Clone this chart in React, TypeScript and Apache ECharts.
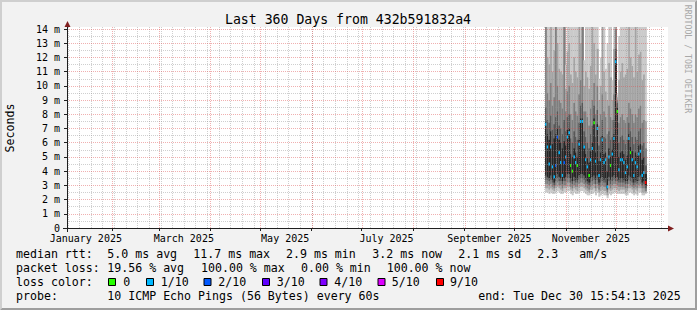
import { useEffect, useRef } from "react";
import * as echarts from "echarts";

const DAY = 86400000;
const utc = (s: string) => Date.parse(s + "T00:00:00Z");
const rangeStart = Date.UTC(2025, 0, 4, 15, 54, 13);
const rangeEnd = Date.UTC(2025, 11, 30, 15, 54, 13);
const firstSample = Date.UTC(2025, 9, 19, 12, 0, 0);
const firstSunday = "2025-01-05";

const monthStarts = ["2025-02-01", "2025-03-01", "2025-04-01", "2025-05-01", "2025-06-01", "2025-07-01", "2025-08-01", "2025-09-01", "2025-10-01", "2025-11-01", "2025-12-01"];
const monthLabelDates = ["2025-01-16", "2025-03-16", "2025-05-16", "2025-07-16", "2025-09-16", "2025-11-16"];
const monthLabelTexts = ["January 2025", "March 2025", "May 2025", "July 2025", "September 2025", "November 2025"];

// smoke: ordered ping percentiles (ms), one value per day from Oct 19
const pingP1 = [2.5, 2.5, 2.4, 2.5, 2.4, 2.4, 2.5, 2.6, 2.5, 2.4, 2.4, 2.5, 2.5, 2.6, 2.6, 2.4, 2.3, 2.5, 2.4, 2.4, 2.5, 2.6, 2.6, 2.5, 2.4, 2.3, 2.3, 2.4, 2.4, 2.5, 2.3, 2.5, 2.2, 2.3, 2.4, 2.3, 2.3, 2.1, 2.4, 2.3, 2.4, 2.5, 2.5, 2.4, 2.4, 2.4, 2.4, 2.4, 2.3, 2.3, 2.5, 2.5, 2.4, 2.3, 2.4, 2.3, 2.5, 2.5, 2.3, 2.3, 2.4];
const pingP2 = [2.8, 2.8, 2.7, 2.8, 2.7, 2.6, 2.8, 2.9, 2.8, 2.7, 2.6, 2.8, 2.8, 2.9, 2.9, 2.7, 2.6, 2.8, 2.7, 2.6, 2.8, 2.9, 2.9, 2.8, 2.7, 2.6, 2.5, 2.7, 2.7, 2.8, 2.6, 2.8, 2.5, 2.6, 2.7, 2.6, 2.6, 2.3, 2.7, 2.6, 2.7, 2.8, 2.8, 2.7, 2.6, 2.7, 2.7, 2.7, 2.5, 2.6, 2.8, 2.8, 2.7, 2.5, 2.7, 2.6, 2.8, 2.8, 2.5, 2.5, 2.5];
const pingP3 = [3.1, 3.1, 3.0, 3.1, 2.9, 2.8, 3.0, 3.2, 3.0, 3.0, 2.8, 3.0, 3.0, 3.2, 3.2, 2.9, 2.8, 3.0, 2.9, 2.9, 3.1, 3.2, 3.2, 3.1, 2.9, 2.8, 2.7, 2.9, 3.0, 3.1, 2.8, 3.1, 2.7, 2.9, 3.0, 2.9, 2.9, 2.5, 3.0, 2.8, 3.0, 3.1, 3.1, 3.0, 2.9, 2.9, 2.9, 2.9, 2.8, 2.8, 3.1, 3.0, 2.9, 2.8, 2.9, 2.8, 3.0, 3.1, 2.8, 2.8, 2.6];
const pingP4 = [3.4, 3.4, 3.3, 3.4, 3.2, 3.0, 3.3, 3.5, 3.3, 3.3, 3.1, 3.3, 3.3, 3.5, 3.5, 3.2, 3.1, 3.3, 3.2, 3.2, 3.4, 3.5, 3.5, 3.4, 3.2, 3.1, 3.0, 3.2, 3.3, 3.4, 3.1, 3.4, 3.0, 3.2, 3.3, 3.2, 3.2, 2.7, 3.3, 3.1, 3.3, 3.4, 3.3, 3.3, 3.2, 3.2, 3.2, 3.2, 3.1, 3.1, 3.4, 3.3, 3.2, 3.0, 3.2, 3.1, 3.3, 3.4, 3.0, 3.1, 2.8];
const pingP5 = [3.7, 3.6, 3.5, 3.7, 3.4, 3.2, 3.5, 3.8, 3.6, 3.5, 3.3, 3.5, 3.6, 3.8, 3.8, 3.5, 3.3, 3.6, 3.4, 3.4, 3.7, 3.8, 3.8, 3.7, 3.5, 3.3, 3.2, 3.5, 3.6, 3.7, 3.4, 3.7, 3.2, 3.5, 3.6, 3.4, 3.5, 2.8, 3.6, 3.4, 3.6, 3.7, 3.5, 3.6, 3.4, 3.5, 3.5, 3.4, 3.3, 3.3, 3.7, 3.6, 3.5, 3.2, 3.4, 3.3, 3.6, 3.7, 3.2, 3.3, 3.0];
const pingP6 = [7.5, 6.6, 6.2, 6.8, 5.9, 6.3, 6.6, 7.0, 6.2, 6.0, 5.6, 6.1, 5.8, 6.9, 7.0, 5.2, 5.0, 5.6, 5.3, 5.0, 6.2, 7.7, 7.7, 5.8, 5.2, 4.9, 4.6, 5.4, 6.0, 7.7, 5.3, 7.3, 4.7, 5.3, 6.5, 5.2, 5.3, 4.0, 5.6, 5.0, 5.5, 6.6, 11.9, 8.5, 5.0, 5.3, 5.4, 5.2, 4.8, 5.1, 6.6, 5.7, 5.4, 4.8, 5.3, 5.1, 5.8, 5.9, 4.8, 5.0, 3.8];
const pingP7 = [8.5, 7.6, 7.4, 7.9, 6.9, 7.3, 7.8, 8.2, 7.2, 7.0, 6.6, 7.6, 6.8, 7.8, 8.0, 6.3, 6.0, 6.8, 6.4, 6.2, 7.4, 8.6, 8.8, 6.8, 6.4, 6.0, 5.6, 6.6, 7.2, 8.6, 6.4, 8.3, 5.8, 6.4, 7.6, 6.4, 6.3, 5.0, 6.8, 6.2, 6.4, 7.6, 12.6, 8.8, 6.0, 6.4, 6.5, 6.2, 5.9, 6.2, 7.4, 6.8, 6.4, 5.9, 6.4, 6.2, 6.8, 7.0, 5.8, 6.0, 4.4];
const pingP8 = [16, 9.5, 9.0, 10.2, 8.6, 9.2, 16, 10.0, 9.0, 8.8, 8.4, 16, 8.2, 9.6, 10.0, 8.0, 7.6, 8.8, 8.2, 7.9, 9.4, 10.4, 16, 8.2, 8.2, 7.8, 7.2, 8.4, 9.0, 10.2, 8.0, 10.0, 7.2, 8.0, 9.4, 8.2, 7.8, 6.6, 8.6, 7.8, 7.6, 9.4, 14.0, 9.0, 7.4, 7.8, 8.0, 7.6, 7.4, 7.8, 8.8, 8.4, 8.0, 7.4, 8.0, 7.8, 8.4, 8.6, 7.4, 7.6, 5.6];
const pingP9 = [16, 12.0, 11.5, 16, 11.0, 12.5, 16, 13.0, 11.2, 11.0, 10.8, 16, 9.8, 12.4, 13.0, 10.8, 10.2, 12.0, 11.0, 10.6, 16, 13.0, 16, 10.0, 11.0, 10.6, 9.8, 11.4, 16, 13.0, 10.8, 12.6, 9.0, 10.0, 16, 11.0, 9.6, 9.0, 11.6, 10.6, 9.0, 12.6, 16, 9.2, 10.4, 11.0, 11.6, 10.6, 10.8, 11.2, 16, 12.0, 11.4, 10.6, 16, 11.0, 12.2, 12.4, 10.4, 10.8, 7.5];
const pingP10 = [16, 16, 16, 16, 16, 16, 16, 16, 16, 16, 16, 16, 11.5, 16, 16, 16, 14.5, 16, 16, 16, 16, 16, 16, 11.8, 16, 16, 14.2, 16, 16, 16, 16, 16, 10.5, 12.0, 16, 16, 11.2, 13.0, 16, 16, 10.4, 16, 16, 9.4, 13.5, 16, 16, 16, 16, 16, 16, 16, 16, 16, 16, 16, 16, 16, 16, 16, 16];
const medianRtt = [7.3, 5.7, 4.5, 5.7, 4.3, 3.6, 4.4, 6.4, 5.3, 4.6, 3.7, 4.6, 5.0, 6.4, 6.7, 4.4, 4.0, 5.0, 4.6, 4.4, 5.9, 7.5, 7.5, 5.7, 4.8, 4.3, 3.7, 4.8, 5.6, 7.4, 4.7, 7.0, 3.7, 4.8, 6.2, 4.6, 4.8, 2.9, 5.0, 4.4, 5.2, 6.3, 11.7, 8.2, 4.1, 4.8, 4.8, 4.6, 3.9, 4.3, 6.3, 5.3, 4.8, 3.7, 4.6, 4.3, 5.2, 5.4, 3.7, 3.9, 3.2];
const lossTenths = [1, 1, 1, 1, 1, 1, 2, 2, 1, 1, 1, 2, 1, 1, 1, 0, 0, 1, 1, 0, 1, 1, 1, 1, 1, 1, 0, 1, 1, 0, 1, 1, 1, 1, 1, 1, 1, 1, 1, 0, 1, 1, 1, 0, 1, 1, 1, 1, 1, 1, 1, 0, 1, 1, 1, 1, 1, 1, 1, 1, 9];

const lossKeys = [0, 1, 2, 3, 4, 5, 9];
const lossLabels = ["0", "1/10", "2/10", "3/10", "4/10", "5/10", "9/10"];
const lossColors = ["#26ff00", "#00b8ff", "#0059ff", "#5e00ff", "#7e00ff", "#dd00ff", "#ff0000"];
const smokeShades = ["#cacaca", "#a4a4a4", "#7e7e7e", "#585858", "#262626"];

const MONO = '"DejaVu Sans Mono", monospace';
const MAJOR_GRID = "rgba(222,79,79,0.45)";
const MINOR_GRID = "rgba(143,143,143,0.43)";

export default function App() {
  const ref = useRef<HTMLDivElement>(null);
  useEffect(() => {
    document.body.style.margin = "0";
    if (!ref.current) return;
    const chart = echarts.init(ref.current, undefined, { renderer: "svg" });

    const sampleTimes = medianRtt.map((_, i) => firstSample + i * DAY);
    const smokeData = sampleTimes.map((t, i) => [
      t, pingP1[i], pingP2[i], pingP3[i], pingP4[i], pingP5[i],
      pingP6[i], pingP7[i], pingP8[i], pingP9[i], pingP10[i],
      medianRtt[i], lossTenths[i],
    ]);
    const monthTimes = monthStarts.map(utc);
    const weekTimes: number[] = [];
    for (let t = utc(firstSunday); t < rangeEnd; t += 7 * DAY) weekTimes.push(t);
    const labelTimes = monthLabelDates.map(utc);

    const vline = (color: string) => (params: any, api: any) => {
      const cs = params.coordSys;
      const x = Math.round(api.coord([api.value(0), 0])[0]) + 0.5;
      return {
        type: "line",
        shape: { x1: x, y1: cs.y - 2, x2: x, y2: cs.y + cs.height },
        style: { stroke: color, lineWidth: 1, lineDash: [1, 1] },
        silent: true,
      };
    };

    const legendRows: [string, number, number][] = [
      ["median rtt:", 16, 254], ["5.0 ms avg", 107.3, 254], ["11.7 ms max", 193.3, 254],
      ["2.9 ms min", 286, 254], ["3.2 ms now", 372.3, 254], ["2.1 ms sd", 458.3, 254],
      ["2.3", 537.3, 254], ["am/s", 579.3, 254],
      ["packet loss:", 16, 268], ["19.56 % avg", 107.3, 268], ["100.00 % max", 201, 268],
      ["0.00 % min", 301, 268], ["100.00 % now", 386.7, 268],
      ["loss color:", 16, 282],
      ["probe:", 16, 296], ["10 ICMP Echo Pings (56 Bytes) every 60s", 107.3, 296],
      ["end: Tue Dec 30 15:54:13 2025", 478.3, 296],
    ];
    const boxX = [108, 146, 203.5, 262, 319.5, 377.5, 436];
    const boxLabelX = [123.3, 160.7, 218.3, 276.7, 334.3, 391.7, 450];

    const graphics: any[] = [
      { type: "rect", z: -100, shape: { x: 67, y: 27, width: 601, height: 201 }, style: { fill: "#ffffff" }, silent: true },
      { type: "polygon", shape: { points: [[0, 0], [697, 0], [695, 2], [2, 2], [2, 308], [0, 310]] }, style: { fill: "#cfcfcf" }, silent: true },
      { type: "polygon", shape: { points: [[697, 0], [697, 310], [0, 310], [2, 308], [695, 308], [695, 2]] }, style: { fill: "#9e9e9e" }, silent: true },
      { type: "line", z: 50, shape: { x1: 63, y1: 228.5, x2: 669, y2: 228.5 }, style: { stroke: "#1f1f1f", lineWidth: 1 }, silent: true },
      { type: "line", z: 50, shape: { x1: 67.5, y1: 232, x2: 67.5, y2: 26 }, style: { stroke: "#1f1f1f", lineWidth: 1 }, silent: true },
      { type: "polygon", z: 51, shape: { points: [[668, 225.5], [668, 231.5], [674, 228.5]] }, style: { fill: "#801f1f" }, silent: true },
      { type: "polygon", z: 51, shape: { points: [[64.5, 27], [70.5, 27], [67.5, 21]] }, style: { fill: "#801f1f" }, silent: true },
      { type: "text", x: 348, y: 19, style: { text: "Last 360 Days from 432b591832a4", font: `13.2px ${MONO}`, fill: "#000", textAlign: "center", textVerticalAlign: "middle" }, silent: true },
      { type: "text", x: 687.5, y: 59, rotation: -Math.PI / 2, style: { text: "RRDTOOL / TOBI OETIKER", font: `8.2px ${MONO}`, fill: "#a8a8a8", textAlign: "center", textVerticalAlign: "middle" }, silent: true },
      { type: "text", x: 10, y: 128, rotation: Math.PI / 2, style: { text: "Seconds", font: `11.6px ${MONO}`, fill: "#000", textAlign: "center", textVerticalAlign: "middle" }, silent: true },
      ...legendRows.map(([text, x, y]) => ({
        type: "text", x, y, style: { text, font: `11.6px ${MONO}`, fill: "#000", textAlign: "left", textVerticalAlign: "middle" }, silent: true,
      })),
      ...lossKeys.map((_, i) => ({
        type: "rect", shape: { x: boxX[i] + 0.5, y: 278.5, width: 7, height: 7 }, style: { fill: lossColors[i], stroke: "#000", lineWidth: 1 }, silent: true,
      })),
      ...lossKeys.map((_, i) => ({
        type: "text", x: boxLabelX[i], y: 282, style: { text: lossLabels[i], font: `11.6px ${MONO}`, fill: "#000", textAlign: "left", textVerticalAlign: "middle" }, silent: true,
      })),
    ];

    chart.setOption({
      animation: false,
      backgroundColor: "#f2f2f2",
      grid: { left: 67, right: 32, top: 29, bottom: 82, show: false },
      xAxis: {
        type: "value",
        min: rangeStart,
        max: rangeEnd,
        splitLine: { show: false },
        axisLine: { show: false },
        axisTick: { show: true, customValues: monthTimes, length: 3, lineStyle: { color: "#1f1f1f" } },
        axisLabel: {
          customValues: labelTimes,
          formatter: (v: number) => monthLabelTexts[labelTimes.indexOf(v)] ?? "",
          fontFamily: MONO, fontSize: 10, color: "#000", margin: 5,
        },
      },
      yAxis: {
        type: "value",
        z: 10,
        min: 0,
        max: 14,
        interval: 1,
        axisLine: { show: false },
        axisTick: { show: true, length: 3, lineStyle: { color: "#1f1f1f" } },
        minorTick: { show: false, splitNumber: 2 },
        splitLine: { show: true, lineStyle: { color: MAJOR_GRID, width: 1, type: [1, 1] } },
        minorSplitLine: { show: true, lineStyle: { color: MINOR_GRID, width: 1, type: [1, 1] } },
        axisLabel: {
          formatter: (v: number) => (v === 0 ? "0" : `${v} m`),
          fontFamily: MONO, fontSize: 10, color: "#000", margin: 7,
        },
      },
      series: [
        {
          type: "custom",
          z: 3,
          silent: true,
          data: smokeData,
          encode: { x: 0, y: 11 },
          renderItem: (params: any, api: any) => {
            const cs = params.coordSys;
            const t = api.value(0);
            const xa = api.coord([t, 0])[0];
            const xb = api.coord([t + DAY, 0])[0];
            const clip = { x: cs.x, y: cs.y - 2, width: cs.width, height: cs.height + 2 };
            const children: any[] = [];
            for (let k = 0; k < 5; k++) {
              const lo = api.value(1 + k);
              const hi = api.value(10 - k);
              const yTop = api.coord([t, hi])[1];
              const yBot = api.coord([t, lo])[1];
              const r = echarts.graphic.clipRectByRect(
                { x: xa, y: yTop, width: xb - xa + 0.4, height: yBot - yTop }, clip);
              if (r) children.push({ type: "rect", shape: r, style: { fill: smokeShades[k] } });
            }
            const ym = api.coord([t, api.value(11)])[1];
            const li = lossKeys.indexOf(api.value(12));
            children.push({ type: "rect", shape: { x: xa, y: ym - 1.5, width: xb - xa, height: 3 }, style: { fill: lossColors[li] } });
            return { type: "group", children };
          },
        },
        { type: "custom", z: 5, silent: true, data: weekTimes.map((t) => [t]), encode: { x: 0 }, renderItem: vline(MINOR_GRID) },
        { type: "custom", z: 6, silent: true, data: monthTimes.map((t) => [t]), encode: { x: 0 }, renderItem: vline(MAJOR_GRID) },
      ],
      graphic: graphics,
    });
    return () => chart.dispose();
  }, []);
  return <div ref={ref} style={{ width: 697, height: 310 }} />;
}
